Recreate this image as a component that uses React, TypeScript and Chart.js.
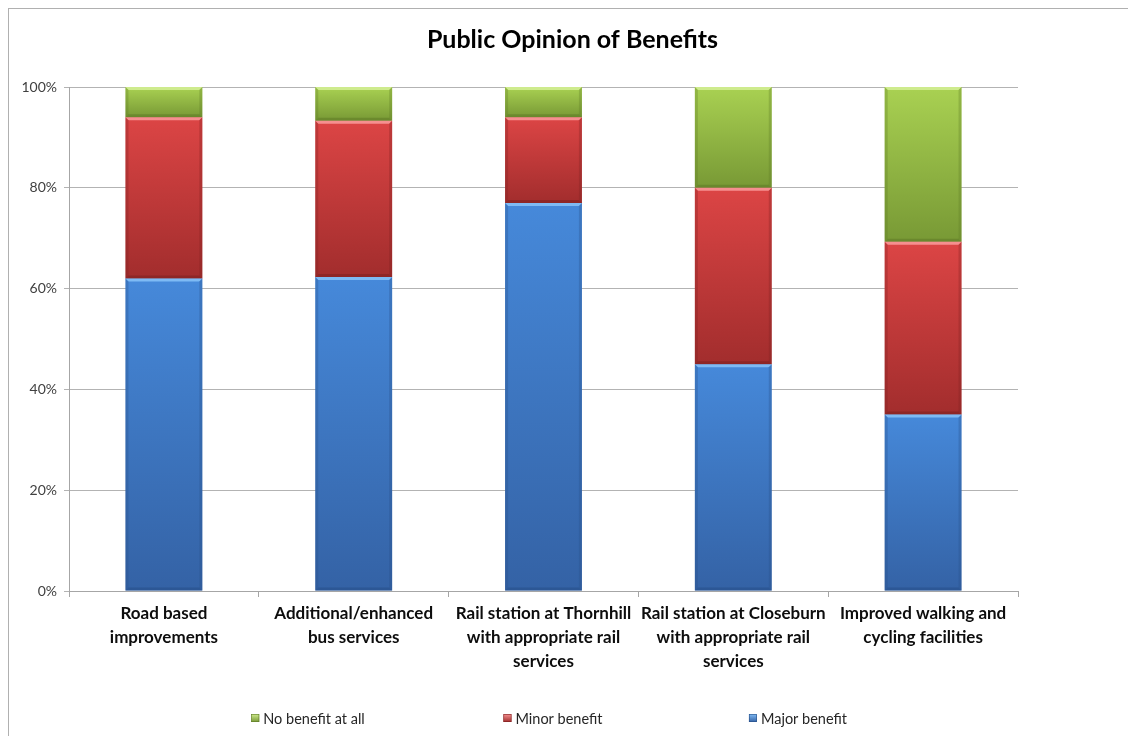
import React, { useEffect, useRef } from "react";
import { Chart, registerables } from "chart.js";

Chart.register(...registerables);

// ---- data ----
const categories: string[][] = [
  ["Road based", "improvements"],
  ["Additional/enhanced", "bus services"],
  ["Rail station at Thornhill", "with appropriate rail", "services"],
  ["Rail station at Closeburn", "with appropriate rail", "services"],
  ["Improved walking and", "cycling facilities"],
];
const majorBenefit = [62, 62.3, 77, 45, 35];
const minorBenefit = [32, 31, 17, 35, 34.3];
const noBenefit = [6, 6.7, 6, 20, 30.7];
const seriesNames = ["Major benefit", "Minor benefit", "No benefit at all"];
const yMin = 0;
const yMax = 100;
const yStep = 20;
const chartTitle = "Public Opinion of Benefits";

const FONT = "Lato, 'Liberation Sans', sans-serif";

const palettes = [
  { top: "#4689da", bottom: "#3462a5", light: "#82bdf6", dark: "#274f88" },
  { top: "#dc4545", bottom: "#a22d2d", light: "#f79393", dark: "#7e2020" },
  { top: "#a9d152", bottom: "#789935", light: "#d0ec90", dark: "#5e7a26" },
];

const seriesData = [majorBenefit, minorBenefit, noBenefit];

function makeGradient(pi: number) {
  return (c: any) => {
    const chart = c.chart;
    const pal = palettes[pi];
    const y = chart.scales && chart.scales.y;
    if (!chart.chartArea || !y || c.type !== "data") return pal.top;
    const i = c.dataIndex;
    let start = 0;
    for (let k = 0; k < c.datasetIndex; k++) start += seriesData[k][i];
    const end = start + seriesData[c.datasetIndex][i];
    const yTop = y.getPixelForValue(end);
    const yBot = y.getPixelForValue(start);
    if (!isFinite(yTop) || !isFinite(yBot) || yTop === yBot) return pal.top;
    const g = chart.ctx.createLinearGradient(0, yTop, 0, yBot);
    g.addColorStop(0, pal.top);
    g.addColorStop(1, pal.bottom);
    return g;
  };
}

const bevelPlugin = {
  id: "bevel",
  afterDatasetsDraw(chart: any) {
    const ctx = chart.ctx;
    chart.data.datasets.forEach((_ds: any, di: number) => {
      const meta = chart.getDatasetMeta(di);
      const pal = palettes[di];
      meta.data.forEach((el: any) => {
        const { x, y, base, width } = el.getProps(["x", "y", "base", "width"], true);
        const l = x - width / 2;
        const r = x + width / 2;
        const t = Math.min(y, base);
        const b = Math.max(y, base);
        const s = 3;
        ctx.save();
        ctx.globalAlpha = 0.95;
        ctx.fillStyle = pal.light;
        ctx.beginPath();
        ctx.moveTo(l, t);
        ctx.lineTo(r, t);
        ctx.lineTo(r - s, t + s);
        ctx.lineTo(l + s, t + s);
        ctx.closePath();
        ctx.fill();
        ctx.globalAlpha = 0.3;
        ctx.fillStyle = pal.dark;
        ctx.beginPath();
        ctx.moveTo(l, t);
        ctx.lineTo(l + s, t + s);
        ctx.lineTo(l + s, b - s);
        ctx.lineTo(l, b);
        ctx.closePath();
        ctx.fill();
        ctx.beginPath();
        ctx.moveTo(r, t);
        ctx.lineTo(r - s, t + s);
        ctx.lineTo(r - s, b - s);
        ctx.lineTo(r, b);
        ctx.closePath();
        ctx.fill();
        ctx.globalAlpha = 0.55;
        ctx.beginPath();
        ctx.moveTo(l, b);
        ctx.lineTo(l + s, b - s);
        ctx.lineTo(r - s, b - s);
        ctx.lineTo(r, b);
        ctx.closePath();
        ctx.fill();
        ctx.restore();
      });
    });
  },
};

const titlePlugin = {
  id: "centeredTitle",
  afterDraw(chart: any) {
    const ctx = chart.ctx;
    ctx.save();
    ctx.font = `bold 25px ${FONT}`;
    ctx.fillStyle = "#000000";
    ctx.textAlign = "center";
    ctx.textBaseline = "middle";
    ctx.fillText(chartTitle, chart.width / 2, 31);
    ctx.restore();
  },
};

const legendPlugin = {
  id: "slotLegend",
  afterDraw(chart: any) {
    const ctx = chart.ctx;
    const ca = chart.chartArea;
    const cx = (ca.left + ca.right) / 2 + 9.5;
    const slot = 245;
    const y = chart.height - 18;
    const order = [2, 1, 0];
    ctx.save();
    ctx.font = `14.5px ${FONT}`;
    ctx.textBaseline = "middle";
    ctx.textAlign = "left";
    order.forEach((di, k) => {
      const text = seriesNames[di];
      const tw = ctx.measureText(text).width;
      const box = 8;
      const gap = 4;
      const total = box + gap + tw;
      const center = cx + (k - 1) * slot;
      const x0 = center - total / 2;
      const pal = palettes[di];
      const g = ctx.createLinearGradient(0, y - box / 2, 0, y + box / 2);
      g.addColorStop(0, pal.light);
      g.addColorStop(1, pal.bottom);
      ctx.fillStyle = g;
      ctx.fillRect(x0, y - box / 2, box, box);
      ctx.strokeStyle = pal.dark;
      ctx.lineWidth = 0.6;
      ctx.strokeRect(x0 + 0.3, y - box / 2 + 0.3, box - 0.6, box - 0.6);
      ctx.fillStyle = "#262626";
      ctx.fillText(text, x0 + box + gap, y + 1);
    });
    ctx.restore();
  },
};

export default function App() {
  const ref = useRef<HTMLCanvasElement | null>(null);

  useEffect(() => {
    document.body.style.overflow = "hidden";
    const canvas = ref.current;
    if (!canvas) return;
    const chart = new Chart(canvas, {
      type: "bar",
      data: {
        labels: categories,
        datasets: seriesData.map((d, i) => ({
          label: seriesNames[i],
          data: d,
          backgroundColor: makeGradient(i),
          borderWidth: 0,
          barPercentage: 0.405,
          categoryPercentage: 1,
          stack: "s",
        })),
      },
      options: {
        animation: false,
        responsive: true,
        maintainAspectRatio: false,
        layout: { padding: { left: 0, right: 118, top: 78, bottom: 50 } },
        plugins: {
          legend: { display: false },
          tooltip: { enabled: false },
          title: { display: false },
        },
        scales: {
          x: {
            stacked: true,
            offset: true,
            grid: {
              display: true,
              drawOnChartArea: false,
              drawTicks: true,
              tickLength: 6,
              color: "#a6a6a6",
              offset: true,
            },
            border: { display: true, color: "#a6a6a6" },
            ticks: {
              color: "#0d0d0d",
              padding: 5,
              maxRotation: 0,
              autoSkip: false,
              font: { family: FONT, size: 17, weight: "bold", lineHeight: 1.39 },
            },
            afterFit: (s: any) => {
              s.height = 95;
            },
          },
          y: {
            stacked: true,
            min: yMin,
            max: yMax,
            grid: {
              color: "#b3b3b3",
              drawTicks: true,
              tickLength: 5,
            },
            border: { display: true, color: "#a6a6a6" },
            ticks: {
              stepSize: yStep,
              padding: 7,
              color: "#404040",
              font: { family: FONT, size: 14 },
              callback: (v: any) => `${v}%`,
            },
            afterFit: (s: any) => {
              s.width = 60;
            },
          },
        },
      },
      plugins: [bevelPlugin, titlePlugin, legendPlugin],
    } as any);
    return () => chart.destroy();
  }, []);

  return (
    <div
      style={{
        width: 1127,
        height: 727,
        borderTop: "1px solid #b0b0b0",
        borderLeft: "1px solid #b0b0b0",
        position: "relative",
        background: "#ffffff",
      }}
    >
      <canvas ref={ref} />
    </div>
  );
}
